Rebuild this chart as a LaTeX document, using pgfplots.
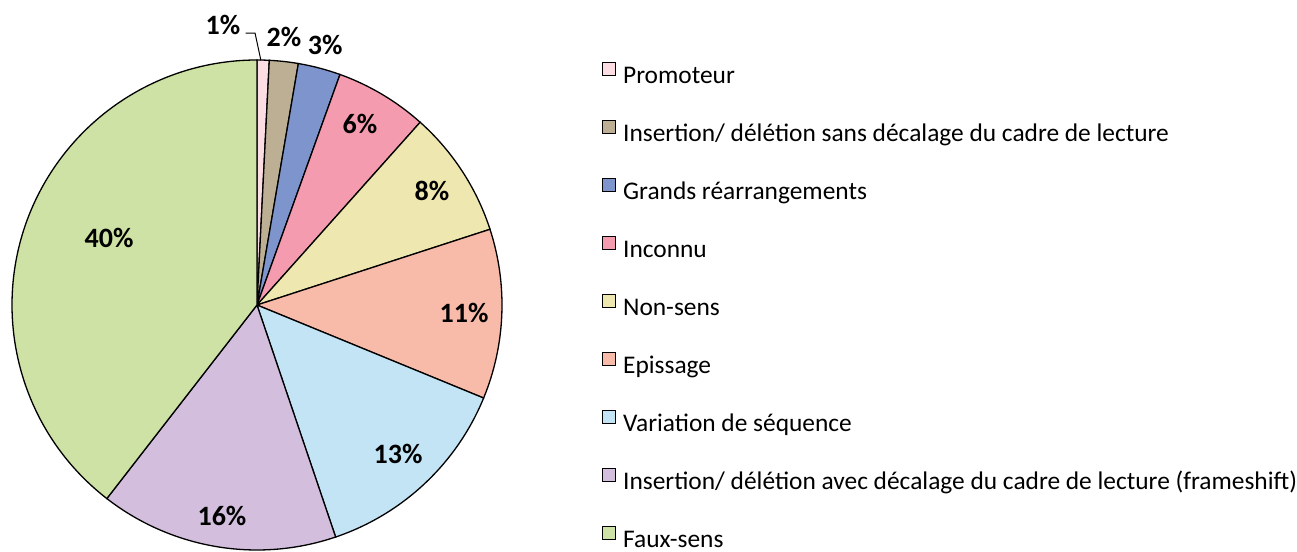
\documentclass[border=0pt]{standalone}
\usepackage{pgfplots}
\usepackage{pgfplotstable}
\pgfplotsset{compat=1.18}
\usepackage{fontspec}
\setmainfont{Carlito}

\definecolor{cPromo}{HTML}{FCDDE4}
\definecolor{cInsSans}{HTML}{BCAF94}
\definecolor{cGrands}{HTML}{7D95CC}
\definecolor{cInconnu}{HTML}{F49BB0}
\definecolor{cNonsens}{HTML}{EEE8B0}
\definecolor{cEpiss}{HTML}{F9BBA9}
\definecolor{cVar}{HTML}{C2E4F5}
\definecolor{cFrame}{HTML}{D3BEDD}
\definecolor{cFaux}{HTML}{CDE2A4}

% part (%), label position (radius units), colour
\pgfplotstableread{
val  lx     ly     lab  col
0.8  -0.139 1.139  1    cPromo
1.9  0.110  1.090  2    cInsSans
2.8  0.278  1.057  3    cGrands
6.1  0.420  0.735  6    cInconnu
8.4  0.714  0.461  8    cNonsens
11.2 0.845  -0.037 11   cEpiss
13.6 0.576  -0.612 13   cVar
15.7 -0.143 -0.865 16   cFrame
39.5 -0.604 0.269  40   cFaux
}\piedata

\begin{document}
\begin{tikzpicture}
\path[use as bounding box] (0,0) rectangle (648.5pt,276pt);
\begin{axis}[
    at={(128.5pt,123.5pt)}, anchor=center,
    scale only axis, width=245pt, height=245pt,
    xmin=-1, xmax=1, ymin=-1, ymax=1,
    hide axis, clip=false,
    legend image code/.code={\draw[#1] (0pt,1.25pt) rectangle (6.5pt,7.75pt);},
    legend cell align=left,
    legend style={at={(1.2035,0.997)}, anchor=north west, draw=none, fill=none,
        inner sep=0pt, row sep=16.0pt, column sep=3.5pt,
        font=\fontsize{12.7}{15}\selectfont,
        nodes={inner sep=0pt, text height=8pt, text depth=2pt}},
  ]
  \pgfplotstablegetrowsof{\piedata}
  \pgfmathtruncatemacro\N{\pgfplotsretval-1}
  \def\cum{90}
  \pgfplotsforeachungrouped \i in {0,...,\N}{
    \pgfplotstablegetelem{\i}{val}\of\piedata \let\v\pgfplotsretval
    \pgfplotstablegetelem{\i}{col}\of\piedata \let\slicecol\pgfplotsretval
    \pgfmathsetmacro\sa{\cum}
    \pgfmathsetmacro\ea{\cum-3.6*\v}
    \pgfmathsetmacro\px{cos(\sa)}
    \pgfmathsetmacro\py{sin(\sa)}
    \edef\temp{\noexpand\filldraw[fill=\slicecol, draw=black, line width=0.65pt]
      (axis cs:0,0) -- (axis cs:\px,\py) arc[start angle=\sa, end angle=\ea, radius=122.5pt] -- cycle;
      \noexpand\addlegendimage{fill=\slicecol, draw=black, line width=0.5pt}}
    \temp
    \let\cum\ea
  }
  \pgfplotsforeachungrouped \i in {0,...,\N}{
    \pgfplotstablegetelem{\i}{lx}\of\piedata \let\lx\pgfplotsretval
    \pgfplotstablegetelem{\i}{ly}\of\piedata \let\ly\pgfplotsretval
    \pgfplotstablegetelem{\i}{lab}\of\piedata \let\lab\pgfplotsretval
    \edef\temp{\noexpand\node[font=\noexpand\bfseries\noexpand\fontsize{14}{16}\noexpand\selectfont,
      inner sep=0pt, text height=8.85pt, text depth=0pt] at (axis cs:\lx,\ly) {\lab\noexpand\%};}
    \temp
  }
  % leader line for the smallest slice
  \draw[line width=0.5pt] (axis cs:-0.046,1.110) -- (axis cs:-0.008,1.110) -- (axis cs:0.016,0.998);
  \legend{Promoteur,
    Insertion/ délétion sans décalage du cadre de lecture,
    Grands réarrangements,
    Inconnu,
    Non-sens,
    Epissage,
    Variation de séquence,
    Insertion/ délétion avec décalage du cadre de lecture (frameshift),
    Faux-sens}
\end{axis}
\end{tikzpicture}
\end{document}
